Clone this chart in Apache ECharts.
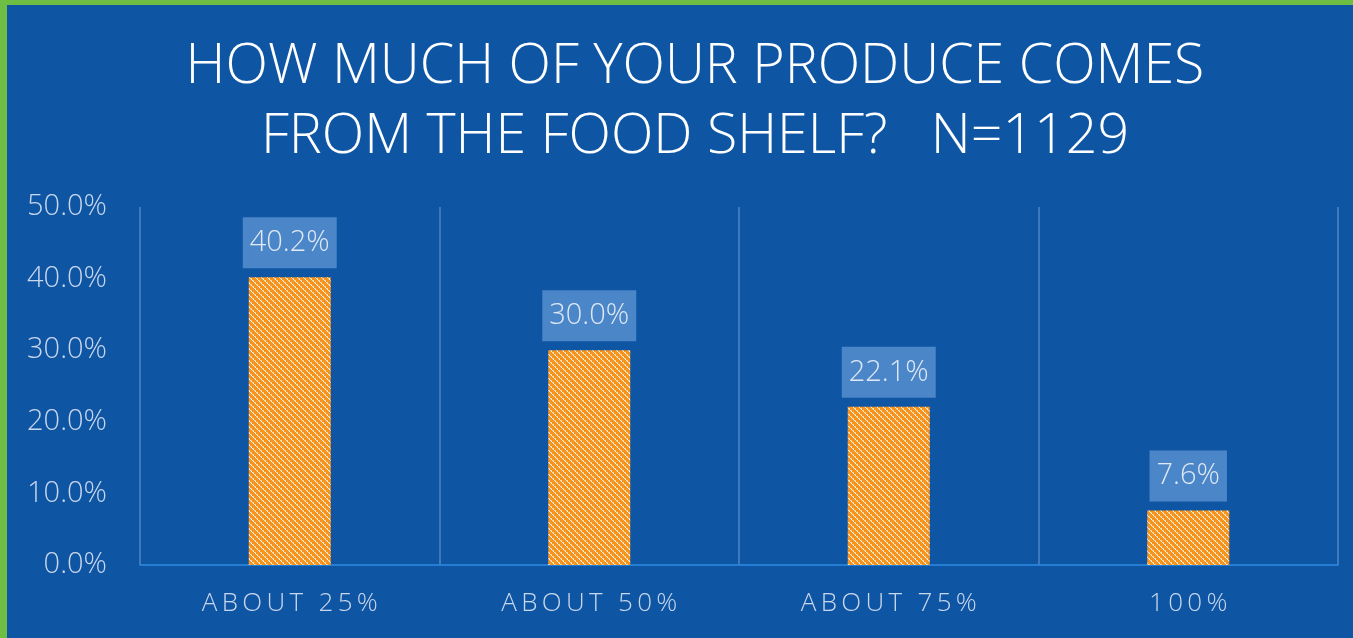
<!DOCTYPE html>
<html>
<head>
<meta charset="utf-8">
<script src="https://cdn.jsdelivr.net/npm/echarts@6/dist/echarts.min.js"></script>
<style>
  html, body { margin: 0; padding: 0; background: #6fbe44; overflow: hidden; }
  #chart { position: absolute; left: 7px; top: 5px; width: 1346px; height: 633px; }
</style>
</head>
<body>
<div id="chart"></div>
<script>
// Survey question and answer shares (percent of respondents)
const titleLines = ['HOW MUCH OF YOUR PRODUCE COMES', 'FROM THE FOOD SHELF?   N=1129'];
const categories = ['ABOUT 25%', 'ABOUT 50%', 'ABOUT 75%', '100%'];
const shares = [40.2, 30.0, 22.1, 7.6];
const yTicks = { min: 0, max: 50, step: 10 };

const FONT = '"Open Sans", "Segoe UI", sans-serif';

// Orange fill crossed by white dotted downward diagonals
function stripeTile() {
  const s = 6;
  const c = document.createElement('canvas');
  c.width = s; c.height = s;
  const g = c.getContext('2d');
  g.fillStyle = '#f7941d';
  g.fillRect(0, 0, s, s);
  for (let y = 0; y < s; y++) {
    for (let x = 0; x < s; x++) {
      const d = ((x - y) % s + s) % s;
      if (d === 0) {
        g.fillStyle = (y % 2 === 0) ? '#ffffff' : '#fde6c8';
        g.fillRect(x, y, 1, 1);
      } else if (d === 1 && y % 2 === 1) {
        g.fillStyle = '#fcc98a';
        g.fillRect(x, y, 1, 1);
      }
    }
  }
  return c;
}

// Spread letters apart for the category labels
const spaced = (t) => t.split('').join('\u2009');

const chart = echarts.init(document.getElementById('chart'), null, { renderer: 'canvas' });
chart.setOption({
  backgroundColor: '#0e55a4',
  animation: false,
  title: {
    text: titleLines.join('\n'),
    left: 683,
    top: 22,
    textAlign: 'center',
    textStyle: {
      color: '#ffffff',
      fontFamily: FONT,
      fontWeight: 300,
      fontSize: 55.5,
      lineHeight: 70
    }
  },
  grid: { left: 133, right: 15, top: 202, bottom: 73 },
  xAxis: {
    type: 'category',
    data: categories,
    axisLine: { show: true, lineStyle: { color: '#2f8ae4', width: 1.5 } },
    axisTick: { show: false },
    splitLine: { show: true, interval: 0, lineStyle: { color: '#4f86c6', width: 1.5 } },
    axisLabel: {
      color: '#c9d7ec',
      fontFamily: FONT,
      fontWeight: 300,
      fontSize: 26,
      margin: 26,
      formatter: spaced
    }
  },
  yAxis: {
    type: 'value',
    min: yTicks.min,
    max: yTicks.max,
    interval: yTicks.step,
    axisLine: { show: false },
    axisTick: { show: false },
    splitLine: { show: false },
    axisLabel: {
      color: '#c9d7ec',
      fontFamily: FONT,
      fontWeight: 300,
      fontSize: 29,
      margin: 33,
      formatter: (v) => v.toFixed(1) + '%'
    }
  },
  series: [{
    type: 'bar',
    data: shares,
    barWidth: 82,
    itemStyle: { color: { image: stripeTile(), repeat: 'repeat' } },
    label: {
      show: true,
      position: 'top',
      distance: 9,
      color: '#dfe8f4',
      fontFamily: FONT,
      fontWeight: 300,
      fontSize: 29,
      lineHeight: 29,
      backgroundColor: '#4a86c8',
      padding: [11, 7, 11, 7],
      formatter: (p) => p.value.toFixed(1) + '%'
    }
  }]
});
</script>
</body>
</html>
